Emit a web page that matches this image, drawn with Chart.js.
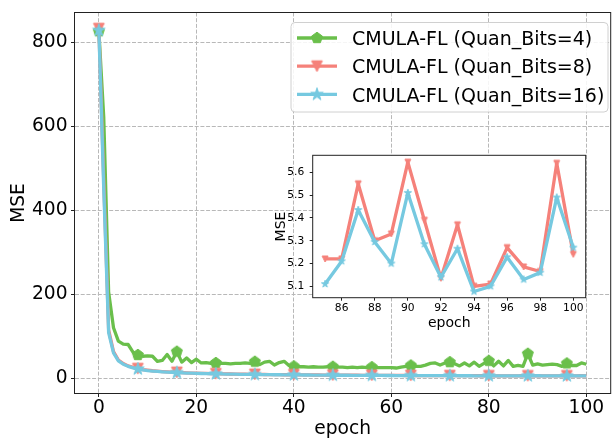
<!DOCTYPE html>
<html><head><meta charset="utf-8">
<script src="https://cdn.jsdelivr.net/npm/chart.js@4.4.1/dist/chart.umd.min.js"></script>
<style>
html,body{margin:0;padding:0;background:#fff;overflow:hidden;width:615px;height:440px;}
#wrap{position:relative;width:615px;height:440px;overflow:hidden;background:#fff;}
#main{position:absolute;left:0;top:0;}
#inset{position:absolute;left:262px;top:145px;}
</style></head><body>
<div id="wrap"><canvas id="main" width="620" height="440"></canvas><canvas id="inset" width="340" height="200"></canvas></div>
<script>
// ---- data ----
const epochs = Array.from({length:101},(_,i)=>i);
const mseBits4 = [
 826, 620, 205, 120, 88, 81, 80, 62, 55, 52,
 53, 52, 40, 42, 56, 40, 63, 38, 48, 37,
 45, 36, 37, 35, 36, 35, 35, 34, 35, 35,
 36, 35, 39, 32, 38, 40, 31, 37, 40, 30,
 28, 27, 27, 26, 27, 26, 26, 27, 27, 26,
 26, 25, 26, 25, 26, 25, 26, 25, 25, 25,
 25, 24, 26, 28, 30, 28, 28, 31, 35, 36,
 31, 36, 38, 34, 29, 36, 29, 38, 28, 35,
 41, 29, 40, 29, 42, 28, 30, 28, 58, 31,
 34, 31, 32, 33, 32, 28, 35, 30, 30, 36,
 33];
const mseBits8 = [
 832, 470, 115, 63, 43, 34.5, 29, 25.5, 22.5, 20.3,
 18.8, 17.5, 16.5, 15.6, 14.8, 14.1, 13.5, 13, 12.5, 12,
 11.6, 11.3, 11, 10.7, 10.4, 10.1, 9.9, 9.7, 9.5, 9.3,
 9.1, 8.9, 8.8, 8.6, 8.5, 8.4, 8.2, 8.1, 8, 7.9,
 7.8, 7.7, 7.6, 7.5, 7.4, 7.3, 7.2, 7.1, 7.05, 7,
 6.9, 6.85, 6.8, 6.7, 6.65, 6.6, 6.55, 6.5, 6.45, 6.4,
 6.35, 6.3, 6.25, 6.2, 6.15, 6.1, 6.05, 6, 5.95, 5.9,
 5.9, 5.85, 5.8, 5.8, 5.75, 5.7, 5.7, 5.65, 5.6, 5.6,
 5.55, 5.5, 5.5, 5.45, 5.4, 5.22, 5.22, 5.55, 5.30, 5.33,
 5.645, 5.39, 5.135, 5.37, 5.10, 5.11, 5.27, 5.185, 5.165, 5.64,
 5.24];
const mseBits16 = [
 828, 450, 108, 60, 41, 33, 28, 24.5, 21.5, 19.5,
 18, 16.8, 15.8, 15, 14.2, 13.6, 13, 12.5, 12, 11.6,
 11.2, 10.9, 10.6, 10.3, 10, 9.8, 9.6, 9.4, 9.2, 9,
 8.8, 8.7, 8.5, 8.4, 8.2, 8.1, 8, 7.9, 7.8, 7.7,
 7.6, 7.5, 7.4, 7.3, 7.2, 7.1, 7, 6.9, 6.9, 6.8,
 6.7, 6.7, 6.6, 6.5, 6.5, 6.4, 6.4, 6.3, 6.3, 6.2,
 6.2, 6.1, 6.1, 6.0, 6.0, 5.95, 5.9, 5.85, 5.8, 5.8,
 5.75, 5.7, 5.7, 5.65, 5.6, 5.6, 5.55, 5.5, 5.5, 5.45,
 5.45, 5.4, 5.4, 5.35, 5.3, 5.11, 5.21, 5.435, 5.295, 5.20,
 5.51, 5.285, 5.14, 5.265, 5.077, 5.10, 5.228, 5.13, 5.16, 5.49,
 5.27];
const seriesLabels = ['CMULA-FL (Quan_Bits=4)', 'CMULA-FL (Quan_Bits=8)', 'CMULA-FL (Quan_Bits=16)'];
const mainXTicks = [0, 20, 40, 60, 80, 100];
const mainYTicks = [0, 200, 400, 600, 800];
const insetStart = 85;
const insetXTicks = [86, 88, 90, 92, 94, 96, 98, 100];
const insetYTicks = [5.1, 5.2, 5.3, 5.4, 5.5, 5.6];
const markEvery = 8;

// ---- styles ----
const COLORS = ['#6abf4b', '#f5817a', '#76c9e0'];
const FONT = 'DejaVu Sans';

function markerCanvas(kind, size, color) {
  const c = document.createElement('canvas');
  const s = Math.ceil(size * 2 + 4);
  c.width = s; c.height = s;
  const g = c.getContext('2d');
  g.translate(s / 2, s / 2);
  g.fillStyle = color; g.strokeStyle = color; g.lineWidth = 1; g.lineJoin = 'miter';
  g.beginPath();
  if (kind === 'pentagon') {
    for (let k = 0; k < 5; k++) { const a = -Math.PI / 2 + k * 2 * Math.PI / 5; g.lineTo(size * Math.cos(a), size * Math.sin(a)); }
  } else if (kind === 'tri') {
    g.moveTo(0, size); g.lineTo(-size, -size); g.lineTo(size, -size);
  } else {
    for (let k = 0; k < 10; k++) { const r = k % 2 ? size * 0.381966 : size; const a = -Math.PI / 2 + k * Math.PI / 5; g.lineTo(r * Math.cos(a), r * Math.sin(a)); }
  }
  g.closePath(); g.fill(); g.stroke();
  return c;
}
const mainMarkers = [markerCanvas('pentagon', 5.8, COLORS[0]), markerCanvas('tri', 5.4, COLORS[1]), markerCanvas('star', 6.6, COLORS[2])];
const insetMarkers = [null, markerCanvas('tri', 3, COLORS[1]), markerCanvas('star', 3.8, COLORS[2])];

const frame = {id: 'frame', afterDatasetsDraw(chart) {
  const {ctx, chartArea: a} = chart; ctx.save();
  ctx.strokeStyle = '#222'; ctx.lineWidth = 1;
  ctx.strokeRect(a.left, a.top, a.right - a.left, a.bottom - a.top); ctx.restore();
}};
const whiteBg = {id: 'whiteBg', beforeDraw(chart) {
  const {ctx, chartArea: a} = chart; ctx.save(); ctx.fillStyle = '#fff';
  ctx.fillRect(a.left, a.top, a.right - a.left, a.bottom - a.top); ctx.restore();
}};
const mplLegend = {id: 'mplLegend', afterDraw(chart) {
  const ctx = chart.ctx; ctx.save();
  const x0 = 291, y0 = 22.5, w = 317, h = 89.5, r = 4;
  ctx.beginPath();
  ctx.moveTo(x0 + r, y0); ctx.lineTo(x0 + w - r, y0); ctx.arcTo(x0 + w, y0, x0 + w, y0 + r, r);
  ctx.lineTo(x0 + w, y0 + h - r); ctx.arcTo(x0 + w, y0 + h, x0 + w - r, y0 + h, r);
  ctx.lineTo(x0 + r, y0 + h); ctx.arcTo(x0, y0 + h, x0, y0 + h - r, r);
  ctx.lineTo(x0, y0 + r); ctx.arcTo(x0, y0, x0 + r, y0, r); ctx.closePath();
  ctx.fillStyle = 'rgba(255,255,255,0.85)'; ctx.fill();
  ctx.strokeStyle = '#d0d0d0'; ctx.lineWidth = 1; ctx.stroke();
  chart.data.datasets.forEach((ds, i) => {
    const y = 38 + i * 28.2;
    ctx.strokeStyle = ds.borderColor; ctx.lineWidth = ds.borderWidth; ctx.lineCap = 'butt';
    ctx.beginPath(); ctx.moveTo(297, y); ctx.lineTo(337, y); ctx.stroke();
    const m = mainMarkers[i]; ctx.drawImage(m, 317 - m.width / 2, y - m.height / 2);
    ctx.fillStyle = '#000'; ctx.font = '19px "' + FONT + '"'; ctx.textBaseline = 'alphabetic';
    ctx.fillText(ds.label, 352, y + 7.2);
  });
  ctx.restore();
}};

function tickSetter(list) { return s => { s.ticks = list.map(v => ({value: v})); }; }
function fitX(h) { return s => { s.height = h; s.paddingLeft = 0; s.paddingRight = 0; }; }
function fitY(w) { return s => { s.width = w; s.paddingTop = 0; s.paddingBottom = 0; }; }

// ---- main chart ----
new Chart(document.getElementById('main'), {
  type: 'line',
  data: {
    datasets: [mseBits4, mseBits8, mseBits16].map((arr, i) => ({
      label: seriesLabels[i],
      data: epochs.map((e, j) => ({x: e, y: arr[j]})),
      borderColor: COLORS[i], backgroundColor: COLORS[i], borderWidth: 3.3,
      borderJoinStyle: 'round', tension: 0, fill: false,
      pointStyle: mainMarkers[i],
      pointRadius: ctx => (ctx.dataIndex % markEvery === 0 ? 6 : 0),
      pointHoverRadius: 0, order: 3 - i
    }))
  },
  options: {
    responsive: false, animation: false, devicePixelRatio: 1,
    layout: {padding: {left: 0, top: 12.5, right: 0.5, bottom: 0}},
    plugins: {legend: {display: false}, tooltip: {enabled: false}},
    scales: {
      x: {type: 'linear', min: -5, max: 105,
        afterBuildTicks: tickSetter(mainXTicks), afterFit: fitX(46.5),
        grid: {color: '#b8b8b8', lineWidth: 1, tickLength: 3.5, tickColor: '#222', tickWidth: 1, tickBorderDash: []},
        border: {display: false, dash: [4, 1.7]},
        ticks: {font: {family: FONT, size: 18.67}, color: '#000', padding: 0, maxRotation: 0, autoSkip: false},
        title: {display: true, text: 'epoch', font: {family: FONT, size: 18.67}, color: '#000', padding: {top: 0, bottom: 0}}
      },
      y: {type: 'linear', min: -36.7, max: 870.5,
        afterBuildTicks: tickSetter(mainYTicks), afterFit: fitY(74.5),
        grid: {color: '#b8b8b8', lineWidth: 1, tickLength: 3.5, tickColor: '#222', tickWidth: 1, tickBorderDash: []},
        border: {display: false, dash: [4, 1.7]},
        ticks: {font: {family: FONT, size: 18.67}, color: '#000', padding: 3.5},
        title: {display: true, text: 'MSE', font: {family: FONT, size: 18.67}, color: '#000', padding: {top: 7.8, bottom: 0}}
      }
    }
  },
  plugins: [frame, mplLegend]
});

// ---- inset chart ----
const insetEpochs = epochs.slice(insetStart);
new Chart(document.getElementById('inset'), {
  type: 'line',
  data: {
    datasets: [mseBits8, mseBits16].map((arr, k) => {
      const i = k + 1;
      return {
        label: seriesLabels[i],
        data: insetEpochs.map((e, j) => ({x: e, y: arr[insetStart + j]})),
        borderColor: COLORS[i], backgroundColor: COLORS[i], borderWidth: 3.3,
        borderJoinStyle: 'round', tension: 0, fill: false,
        pointStyle: insetMarkers[i], pointRadius: 3, pointHoverRadius: 0, order: 3 - i
      };
    })
  },
  options: {
    responsive: false, animation: false, devicePixelRatio: 1,
    layout: {padding: {left: 0, top: 10.3, right: 16.3, bottom: 0}},
    plugins: {legend: {display: false}, tooltip: {enabled: false}},
    scales: {
      x: {type: 'linear', min: 84.25, max: 100.75,
        afterBuildTicks: tickSetter(insetXTicks), afterFit: fitX(47.3),
        grid: {drawOnChartArea: false, tickLength: 3, tickColor: '#222', tickWidth: 1},
        border: {display: false},
        ticks: {font: {family: FONT, size: 10.7}, color: '#000', padding: 0.9, maxRotation: 0, autoSkip: false},
        title: {display: true, text: 'epoch', font: {family: FONT, size: 14}, color: '#000', padding: {top: 0, bottom: 13.1}}
      },
      y: {type: 'linear', min: 5.05, max: 5.675,
        afterBuildTicks: tickSetter(insetYTicks), afterFit: fitY(50.7),
        grid: {drawOnChartArea: false, tickLength: 3, tickColor: '#222', tickWidth: 1},
        border: {display: false},
        ticks: {font: {family: FONT, size: 10.7}, color: '#000', padding: 5.5, callback: v => v.toFixed(1)},
        title: {display: true, text: 'MSE', font: {family: FONT, size: 14}, color: '#000', padding: {top: 10.6, bottom: 0}}
      }
    }
  },
  plugins: [whiteBg, frame]
});
</script>
</body></html>
